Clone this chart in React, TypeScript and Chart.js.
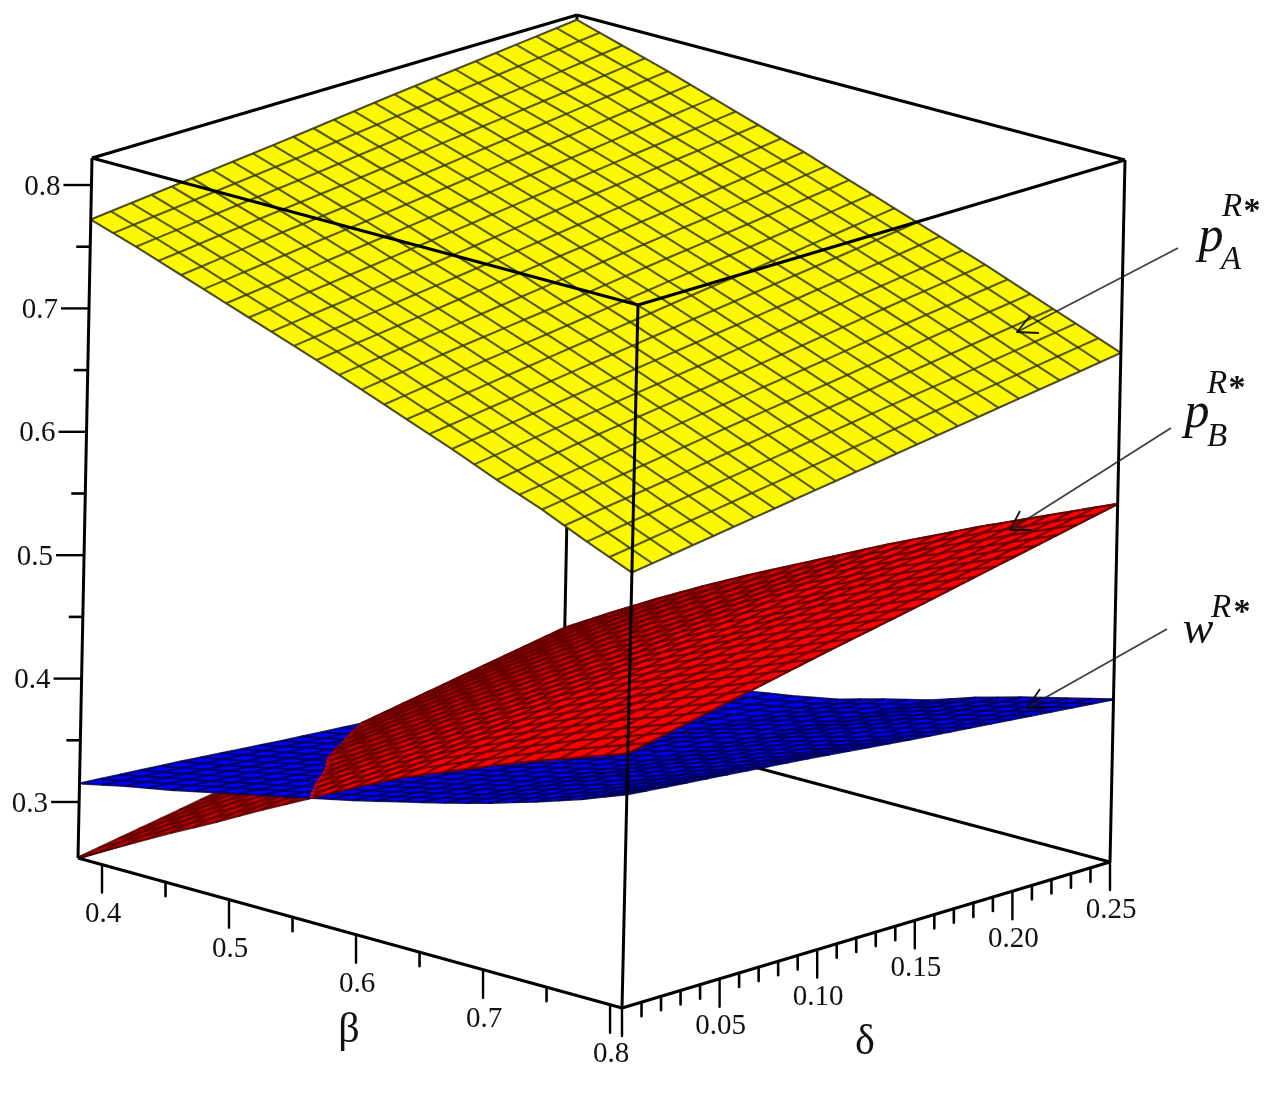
import React, { useEffect, useRef } from "react";
import { Chart, registerables } from "chart.js";

Chart.register(...registerables);

// Axis ranges of the box
const betaRange = [0.3811, 0.8094];
const deltaRange = [0, 0.25];
const valueRange = [0.2546, 0.8219];

// Nodes: rows = beta, columns = delta
const betaNodes = [0.381, 0.417, 0.453, 0.488, 0.524, 0.56, 0.595, 0.631, 0.667, 0.702, 0.738, 0.774, 0.809];
const deltaNodes = [0, 0.05, 0.1, 0.15, 0.2, 0.25];

const pAValues = [
  [0.772, 0.781, 0.79, 0.8, 0.809, 0.818],
  [0.76, 0.769, 0.778, 0.788, 0.797, 0.807],
  [0.747, 0.757, 0.766, 0.776, 0.786, 0.796],
  [0.734, 0.744, 0.754, 0.764, 0.774, 0.784],
  [0.721, 0.731, 0.741, 0.752, 0.762, 0.772],
  [0.708, 0.718, 0.729, 0.739, 0.749, 0.76],
  [0.694, 0.705, 0.715, 0.726, 0.736, 0.747],
  [0.68, 0.691, 0.702, 0.713, 0.723, 0.734],
  [0.666, 0.677, 0.688, 0.699, 0.71, 0.721],
  [0.651, 0.663, 0.674, 0.685, 0.697, 0.708],
  [0.637, 0.648, 0.66, 0.671, 0.683, 0.694],
  [0.621, 0.633, 0.645, 0.657, 0.668, 0.68],
  [0.606, 0.618, 0.63, 0.642, 0.654, 0.666],
];

const pBValues = [
  [0.255, 0.269, 0.283, 0.298, 0.312, 0.326],
  [0.275, 0.29, 0.304, 0.319, 0.333, 0.348],
  [0.295, 0.31, 0.325, 0.339, 0.354, 0.369],
  [0.314, 0.329, 0.344, 0.359, 0.374, 0.389],
  [0.334, 0.349, 0.364, 0.378, 0.393, 0.408],
  [0.353, 0.368, 0.382, 0.397, 0.411, 0.426],
  [0.372, 0.386, 0.401, 0.415, 0.43, 0.444],
  [0.39, 0.404, 0.419, 0.433, 0.448, 0.462],
  [0.405, 0.42, 0.435, 0.449, 0.464, 0.479],
  [0.42, 0.435, 0.45, 0.466, 0.481, 0.496],
  [0.434, 0.45, 0.465, 0.481, 0.496, 0.512],
  [0.447, 0.463, 0.479, 0.496, 0.512, 0.528],
  [0.46, 0.477, 0.494, 0.51, 0.527, 0.544],
];

const wValues = [
  [0.315, 0.309, 0.302, 0.296, 0.289, 0.283],
  [0.323, 0.316, 0.31, 0.303, 0.297, 0.29],
  [0.33, 0.324, 0.317, 0.311, 0.304, 0.298],
  [0.338, 0.332, 0.325, 0.319, 0.312, 0.306],
  [0.346, 0.34, 0.333, 0.327, 0.32, 0.314],
  [0.354, 0.347, 0.34, 0.334, 0.327, 0.32],
  [0.362, 0.355, 0.348, 0.341, 0.334, 0.327],
  [0.371, 0.364, 0.357, 0.351, 0.344, 0.337],
  [0.38, 0.373, 0.366, 0.36, 0.353, 0.346],
  [0.39, 0.384, 0.377, 0.371, 0.364, 0.358],
  [0.401, 0.394, 0.388, 0.381, 0.375, 0.368],
  [0.413, 0.406, 0.399, 0.391, 0.384, 0.377],
  [0.427, 0.419, 0.411, 0.402, 0.394, 0.386],
];

// Tick lists
const betaMajor = [0.4, 0.5, 0.6, 0.7, 0.8];
const betaMinor = [0.45, 0.55, 0.65, 0.75];
const deltaMajor = [0, 0.05, 0.1, 0.15, 0.2, 0.25];
const deltaMinor = [0.01, 0.02, 0.03, 0.04, 0.06, 0.07, 0.08, 0.09, 0.11, 0.12, 0.13, 0.14, 0.16, 0.17, 0.18, 0.19, 0.21, 0.22, 0.23, 0.24];
const valueMajor = [0.3, 0.4, 0.5, 0.6, 0.7, 0.8];
const valueMinor = [0.35, 0.45, 0.55, 0.65, 0.75];
const betaLabels = ["0.4", "0.5", "0.6", "0.7", "0.8"];
const deltaLabels = ["0.05", "0.10", "0.15", "0.20", "0.25"];
const deltaLabelValues = [0.05, 0.1, 0.15, 0.2, 0.25];
const valueLabels = ["0.3", "0.4", "0.5", "0.6", "0.7", "0.8"];

// Box projection (screen position of the eight box corners)
const LB = [78, 858], FB = [622, 1008], RB = [1110, 862], BB = [563, 716];
const LT = [92, 158], FT = [638, 305], RT = [1125, 160], BT = [577, 15];

const W = 1266, H = 1097;
const FONT = '"Liberation Serif", "Times New Roman", serif';
const MESH = 24;

function norm(v: number, r: number[]) {
  return (v - r[0]) / (r[1] - r[0]);
}
function corner(u: number, v: number, w: number, k: number) {
  const lo = LB[k] * (1 - u) * (1 - v) + FB[k] * u * (1 - v) + RB[k] * u * v + BB[k] * (1 - u) * v;
  const hi = LT[k] * (1 - u) * (1 - v) + FT[k] * u * (1 - v) + RT[k] * u * v + BT[k] * (1 - u) * v;
  return lo + (hi - lo) * w;
}
function project(beta: number, delta: number, value: number) {
  const u = norm(beta, betaRange), v = norm(delta, deltaRange), w = norm(value, valueRange);
  return { x: corner(u, v, w, 0), y: corner(u, v, w, 1) };
}
function lookup(table: number[][], s: number, t: number) {
  const a = Math.min(s * (betaNodes.length - 1), betaNodes.length - 1.0001);
  const b = Math.min(t * (deltaNodes.length - 1), deltaNodes.length - 1.0001);
  const i = Math.floor(a), j = Math.floor(b);
  const f = a - i, g = b - j;
  return (table[i][j] * (1 - g) + table[i][j + 1] * g) * (1 - f) + (table[i + 1][j] * (1 - g) + table[i + 1][j + 1] * g) * f;
}
function node(table: number[][], s: number, t: number) {
  const beta = betaRange[0] + (betaRange[1] - betaRange[0]) * s;
  const delta = deltaRange[0] + (deltaRange[1] - deltaRange[0]) * t;
  return project(beta, delta, lookup(table, s, t));
}

function lineDs(data: any[], color: string, width: number, fill?: string) {
  return {
    data,
    showLine: true,
    borderColor: color,
    borderWidth: width,
    backgroundColor: fill || "transparent",
    fill: fill ? "shape" : false,
    pointRadius: 0,
    tension: 0,
    clip: false,
    borderCapStyle: "butt",
    borderJoinStyle: "round",
  };
}

function outline(table: number[][], n: number) {
  const pts: any[] = [];
  for (let k = 0; k <= n; k++) pts.push(node(table, k / n, 0));
  for (let k = 1; k <= n; k++) pts.push(node(table, 1, k / n));
  for (let k = n - 1; k >= 0; k--) pts.push(node(table, k / n, 1));
  for (let k = n - 1; k >= 0; k--) pts.push(node(table, 0, k / n));
  return pts;
}

function meshLines(table: number[][], color: string, width: number, keep?: (s: number, t: number) => boolean) {
  const out: any[] = [];
  const steps = MESH * 8;
  const flush = (pts: any[]) => {
    if (pts.length > 1) out.push(lineDs(pts, color, width));
  };
  for (let a = 0; a <= MESH; a++) {
    const one: any[] = [], two: any[] = [];
    const p = a / MESH;
    for (let b = 0; b <= steps; b++) {
      const q = b / steps;
      if (keep ? keep(p, q) : b % 8 === 0) one.push(node(table, p, q));
      if (keep ? keep(q, p) : b % 8 === 0) two.push(node(table, q, p));
    }
    flush(one);
    flush(two);
  }
  return out;
}

function redColor(s: number, t: number) {
  const light = Math.min(1, 0.62 + 0.62 * s + 0.1 * (1 - t));
  return `rgb(${Math.round(255 * light)},0,0)`;
}

function buildDatasets() {
  const ds: any[] = [];
  const box = (a: number[], b: number[], width = 3) =>
    ds.push(lineDs([{ x: a[0], y: a[1] }, { x: b[0], y: b[1] }], "#000", width));

  // rear of the box
  box(LB, BB);
  box(BB, RB);
  box(BB, BT);
  box(LT, BT);
  box(BT, RT);

  // pB where it lies under w
  ds.push(lineDs(outline(pBValues, MESH), "rgba(110,110,110,0.6)", 1, "#c80000"));
  ds.push(...meshLines(pBValues, "rgba(95,0,0,0.85)", 2.3));

  // w
  ds.push(lineDs(outline(wValues, MESH), "rgba(110,110,110,0.6)", 1, "#0000ff"));
  ds.push(...meshLines(wValues, "rgba(0,0,85,0.85)", 2.1));

  // pB where it lies above w
  const above = (s: number, t: number) => lookup(pBValues, s, t) >= lookup(wValues, s, t);
  const quad = (s: number, t: number, s2: number, t2: number, color: string) =>
    ds.push(
      lineDs(
        [node(pBValues, s, t), node(pBValues, s2, t), node(pBValues, s2, t2), node(pBValues, s, t2), node(pBValues, s, t)],
        color,
        0.5,
        color
      )
    );
  for (let a = 0; a < MESH; a++) {
    for (let b = 0; b < MESH; b++) {
      const s = a / MESH, t = b / MESH, s2 = (a + 1) / MESH, t2 = (b + 1) / MESH;
      const color = redColor(s, t);
      const count = [above(s, t), above(s2, t), above(s2, t2), above(s, t2)].filter(Boolean).length;
      if (count === 4) quad(s, t, s2, t2, color);
      else if (count > 0) {
        const sub = 8;
        for (let c = 0; c < sub; c++) {
          for (let d = 0; d < sub; d++) {
            const sa = s + ((s2 - s) * c) / sub, ta = t + ((t2 - t) * d) / sub;
            const sb = s + ((s2 - s) * (c + 1)) / sub, tb = t + ((t2 - t) * (d + 1)) / sub;
            if (above((sa + sb) / 2, (ta + tb) / 2)) quad(sa, ta, sb, tb, color);
          }
        }
      }
    }
  }
  ds.push(...meshLines(pBValues, "rgba(95,0,0,0.85)", 2.3, above));

  // pA
  ds.push(lineDs(outline(pAValues, MESH), "rgba(120,120,120,0.85)", 1.2, "#fbf800"));
  ds.push(...meshLines(pAValues, "rgba(62,62,16,0.85)", 2.1));

  // front of the box
  box(LT, LB);
  box(LT, FT);
  box(FT, RT);
  box(RT, RB);
  box(FT, FB);
  box(LB, FB);
  box(FB, RB);

  // ticks
  const floor = valueRange[0];
  const tick = (p: { x: number; y: number }, dx: number, dy: number, width: number) =>
    ds.push(lineDs([p, { x: p.x + dx, y: p.y + dy }], "#000", width));
  betaMajor.forEach((b) => tick(project(b, 0, floor), 0, 28, 2.4));
  betaMinor.forEach((b) => tick(project(b, 0, floor), 0, 14, 2.6));
  deltaMajor.forEach((d) => tick(project(betaRange[1], d, floor), 0, 28, 2.4));
  deltaMinor.forEach((d) => tick(project(betaRange[1], d, floor), 0, 14, 2.6));
  valueMajor.forEach((z) => tick(project(betaRange[0], 0, z), -28, 0, 2.4));
  valueMinor.forEach((z) => tick(project(betaRange[0], 0, z), -14, 0, 2.6));

  // callout arrows
  const arrow = (from: number[], tip: number[], b1: number[], b2: number[]) => {
    ds.push(lineDs([{ x: from[0], y: from[1] }, { x: tip[0], y: tip[1] }], "rgba(30,30,30,0.85)", 1.8));
    ds.push(lineDs([{ x: b1[0], y: b1[1] }, { x: tip[0], y: tip[1] }, { x: b2[0], y: b2[1] }], "rgba(10,10,10,0.95)", 1.8));
  };
  arrow([1178, 248], [1017, 332], [1030, 316], [1039, 333]);
  arrow([1171, 428], [1010, 530], [1020, 511], [1032, 530]);
  arrow([1167, 629], [1027, 708], [1040, 689], [1049, 707]);

  return ds.reverse();
}

const textPlugin = {
  id: "plotText",
  afterDatasetsDraw(chart: any) {
    const ctx = chart.ctx;
    const sx = chart.scales.x, sy = chart.scales.y;
    const put = (text: string, p: { x: number; y: number }, font: string, align: CanvasTextAlign = "center") => {
      ctx.font = font;
      ctx.textAlign = align;
      ctx.textBaseline = "middle";
      ctx.fillStyle = "#111";
      ctx.fillText(text, sx.getPixelForValue(p.x), sy.getPixelForValue(p.y));
    };
    const tickFont = `29px ${FONT}`;
    betaLabels.forEach((l, i) => {
      const p = project(betaMajor[i], 0, valueRange[0]);
      put(l, { x: p.x + 1, y: p.y + 50 }, tickFont);
    });
    deltaLabels.forEach((l, i) => {
      const p = project(betaRange[1], deltaLabelValues[i], valueRange[0]);
      put(l, { x: p.x + 1, y: p.y + 48 }, tickFont);
    });
    valueLabels.forEach((l, i) => {
      const p = project(betaRange[0], 0, valueMajor[i]);
      put(l, { x: p.x - 31, y: p.y + 2 }, tickFont, "right");
    });
    put("β", { x: 349, y: 1031 }, `42px ${FONT}`);
    put("δ", { x: 865, y: 1043 }, `42px ${FONT}`);

    const italicBig = `italic 50px ${FONT}`;
    const italicSmall = `italic 33px ${FONT}`;
    const star = `bold 34px ${FONT}`;
    put("p", { x: 1211, y: 238 }, italicBig);
    put("A", { x: 1231, y: 260 }, italicSmall);
    put("R", { x: 1232, y: 207 }, italicSmall);
    put("*", { x: 1252, y: 212 }, star);
    put("p", { x: 1197, y: 414 }, italicBig);
    put("B", { x: 1217, y: 437 }, italicSmall);
    put("R", { x: 1217, y: 384 }, italicSmall);
    put("*", { x: 1237, y: 389 }, star);
    put("w", { x: 1198, y: 631 }, `italic 46px ${FONT}`);
    put("R", { x: 1221, y: 608 }, italicSmall);
    put("*", { x: 1242, y: 613 }, star);
  },
};

export default function App() {
  const ref = useRef<HTMLCanvasElement | null>(null);
  useEffect(() => {
    if (!ref.current) return;
    const chart = new Chart(ref.current, {
      type: "scatter",
      data: { datasets: buildDatasets() },
      options: {
        responsive: false,
        animation: false,
        devicePixelRatio: 1,
        parsing: false,
        normalized: false,
        events: [],
        layout: { padding: 0 },
        plugins: { legend: { display: false }, tooltip: { enabled: false }, title: { display: false } },
        scales: {
          x: { type: "linear", display: false, min: 0, max: W },
          y: { type: "linear", display: false, min: 0, max: H, reverse: true },
        },
      } as any,
      plugins: [textPlugin],
    } as any);
    return () => chart.destroy();
  }, []);
  return (
    <canvas
      ref={ref}
      width={W}
      height={H}
      style={{ position: "absolute", left: 0, top: 0, width: W, height: H, background: "#fff", filter: "blur(0.6px)" }}
    />
  );
}
